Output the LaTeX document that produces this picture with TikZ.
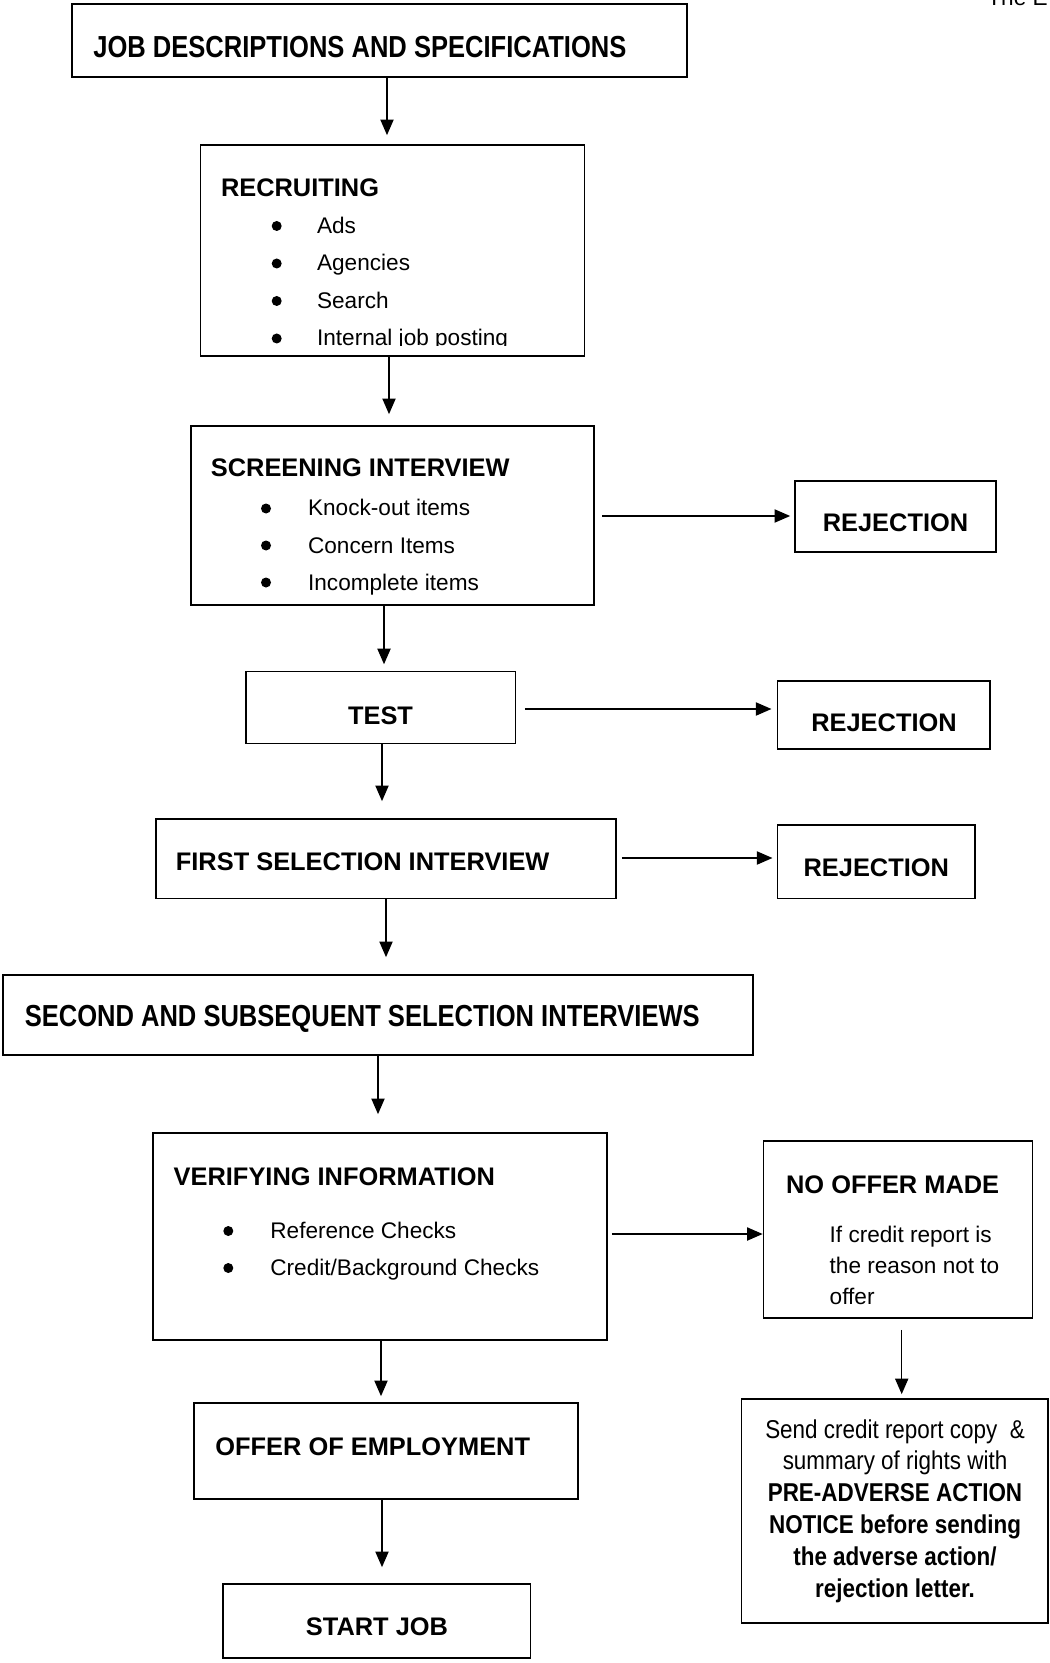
\documentclass[tikz,border=0pt]{standalone}
\usepackage{fontspec}
\setmainfont{Liberation Sans}
\newfontfamily\condsans{Liberation Sans}[FakeStretch=0.84]
\newfontfamily\tallsans{Liberation Sans}[FakeStretch=0.87]
\usetikzlibrary{arrows.meta,positioning,fit}

\tikzset{
  box/.style={draw=black, line width=0.85pt, inner sep=0pt},
  ttl/.style={font=\bfseries\fontsize{12.7}{15}\selectfont, inner sep=0pt, anchor=base west},
  ttlc/.style={ttl, anchor=base},
  cond/.style={font=\condsans\bfseries\fontsize{15.2}{18}\selectfont, inner sep=0pt, anchor=base west},
  itm/.style={font=\fontsize{11.3}{13}\selectfont, inner sep=0pt, anchor=base west},
  note/.style={font=\tallsans\fontsize{12.9}{15}\selectfont, inner sep=0pt, anchor=base},
  dot/.style={circle, fill=black, inner sep=0pt, minimum size=5pt},
  arr/.style={line width=0.7pt, -{Triangle[length=7.8pt,width=6.6pt]}},
}

\begin{document}
\begin{tikzpicture}[x=0.5pt,y=-0.5pt]
  \useasboundingbox (0,0) rectangle (1049,1663);

  % boxes
  \node[box, fit={(72,4) (687,77)}] (job) {};
  \node[box, fit={(200.5,145) (584.5,356)}] (rec) {};
  \node[box, fit={(191,426) (594,605)}] (scr) {};
  \node[box, fit={(795,481) (996,552)}] (rej1) {};
  \node[box, fit={(246,671.5) (515.5,743.5)}] (test) {};
  \node[box, fit={(777.5,681) (990,749)}] (rej2) {};
  \node[box, fit={(156,819) (616,898.5)}] (first) {};
  \node[box, fit={(777.5,825) (975,898.5)}] (rej3) {};
  \node[box, fit={(3,975) (753,1055)}] (second) {};
  \node[box, fit={(152.7,1133) (606.7,1340)}] (ver) {};
  \node[box, fit={(763.5,1141) (1032.5,1318)}] (nooffer) {};
  \node[box, fit={(741.5,1399) (1048,1623)}] (send) {};
  \node[box, fit={(194,1403) (578,1499)}] (offer) {};
  \node[box, fit={(223,1584) (530.5,1658)}] (start) {};

  % texts
  \node[itm] (hdr) at (987,6) {The E};
  \node[cond] (jobtxt) at (93,58) {JOB DESCRIPTIONS AND SPECIFICATIONS};
  \node[ttl] (rectxt) at (220.6,197) {RECRUITING};
  \begin{scope}
    \clip (rec.north west) rectangle (rec.east |- 0,345.7);
    \foreach \t [count=\i] in {Ads, Agencies, Search, Internal job posting} {
      \node[dot] (recdot\i) at (276.7,{226+37.5*(\i-1)}) {};
      \node[itm] (rec\i) at (316.7,{233.3+37.5*(\i-1)}) {\t};
    }
  \end{scope}
  \node[ttl] (scrtxt) at (210.5,476.7) {SCREENING INTERVIEW};
  \foreach \t [count=\i] in {Knock-out items, Concern Items, Incomplete items} {
    \node[dot] (scrdot\i) at (266,{508.5+37*(\i-1)}) {};
    \node[itm] (scr\i) at (307.7,{516+37*(\i-1)}) {\t};
  }
  \node[ttlc] (rej1txt) at (895.5,531.7) {REJECTION};
  \node[ttlc] (testtxt) at (380.5,724) {TEST};
  \node[ttlc] (rej2txt) at (884,731.7) {REJECTION};
  \node[ttl] (firsttxt) at (175.5,870) {FIRST SELECTION INTERVIEW};
  \node[ttlc] (rej3txt) at (876.3,876.7) {REJECTION};
  \node[cond] (secondtxt) at (24.4,1026) {SECOND AND SUBSEQUENT SELECTION INTERVIEWS};
  \node[ttl] (vertxt) at (173.3,1185) {VERIFYING INFORMATION};
  \node[dot] (verdot1) at (228.3,1231) {};
  \node[itm] (ver1) at (270,1238.5) {Reference Checks};
  \node[dot] (verdot2) at (228.3,1268) {};
  \node[itm] (ver2) at (270,1275.7) {Credit/Background Checks};
  \node[ttl] (nooffertxt) at (785.7,1193.3) {NO OFFER MADE};
  \foreach \t [count=\i] in {If credit report is, the reason not to, offer}
    \node[itm] (nooffer\i) at (829.3,{1242.4+31*(\i-1)}) {\t};
  \foreach \t [count=\i] in {Send credit report copy\ \ \&, summary of rights with,
      \textbf{PRE-ADVERSE ACTION}, \textbf{NOTICE before sending},
      \textbf{the adverse action/}, \textbf{rejection letter.}}
    \node[note] (send\i) at (895,{1438+31.8*(\i-1)}) {\t};
  \node[ttl] (offertxt) at (215,1455) {OFFER OF EMPLOYMENT};
  \node[ttlc] (starttxt) at (377,1635) {START JOB};

  % connectors
  \draw[arr, shorten >=4.5pt] (job.south -| 387,0) -- (rec.north -| 387,0);
  \draw[arr, shorten >=5.5pt] (rec.south -| 389,0) -- (scr.north -| 389,0);
  \draw[arr, shorten >=3.2pt] (scr.south -| 384,0) -- (test.north -| 384,0);
  \draw[arr, shorten >=8.5pt] (test.south -| 382,0) -- (first.north -| 382,0);
  \draw[arr, shorten >=8.5pt] (first.south -| 386,0) -- (second.north -| 386,0);
  \draw[arr, shorten >=9pt] (second.south -| 378,0) -- (ver.north -| 378,0);
  \draw[arr, shorten >=3pt] (ver.south -| 381,0) -- (offer.north -| 381,0);
  \draw[arr, shorten >=8pt] (offer.south -| 382,0) -- (start.north -| 382,0);
  \draw[arr, shorten <=3.8pt, shorten >=2pt] (scr.east |- 0,516) -- (rej1.west |- 0,516);
  \draw[arr, shorten <=4.2pt, shorten >=2.6pt] (test.east |- 0,709) -- (rej2.west |- 0,709);
  \draw[arr, shorten <=2.5pt, shorten >=2.1pt] (first.east |- 0,858) -- (rej3.west |- 0,858);
  \draw[arr, shorten <=2.2pt] (ver.east |- 0,1234) -- (nooffer.west |- 0,1234);
  \draw[arr, shorten <=5.5pt, shorten >=2pt] (nooffer.south -| 901.7,0) -- (send.north -| 901.7,0);
\end{tikzpicture}
\end{document}
